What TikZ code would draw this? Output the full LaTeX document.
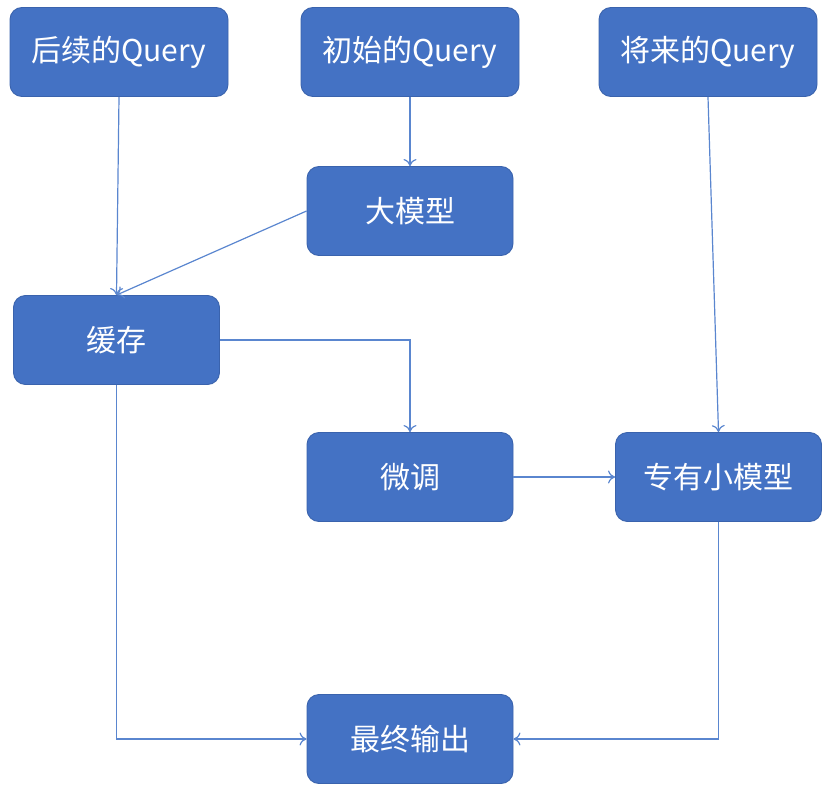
\documentclass[tikz,border=0pt]{standalone}
\usepackage{fontspec}
\newfontfamily\cjk{Noto Sans CJK SC}
\usetikzlibrary{arrows.meta}
\definecolor{boxfill}{HTML}{4472C4}
\definecolor{boxdraw}{HTML}{3A63AD}
\definecolor{linecol}{HTML}{5A86CF}
\tikzset{
  box/.style={draw=boxdraw, line width=0.9pt, fill=boxfill, rounded corners=12pt,
    minimum width=206pt, minimum height=89pt, inner sep=0pt,
    text=white, font=\cjk\fontsize{30}{34}\selectfont},
  qbox/.style={box, minimum width=218pt},
  conn/.style={draw=linecol, line width=1.2pt, -{To[length=7pt,width=13pt]}}
}
\begin{document}
\begin{tikzpicture}[x=1pt,y=-1pt]
\useasboundingbox (0,0) rectangle (828,792);
\node[qbox] (q1) at (119,52) {后续的Query};
\node[qbox] (q2) at (410,52) {初始的Query};
\node[qbox] (q3) at (708,52) {将来的Query};
\node[box] (big) at (410,211) {大模型};
\node[box] (cache) at (116.5,340) {缓存};
\node[box] (tune) at (410,477) {微调};
\node[box] (small) at (718.5,477) {专有小模型};
\node[box] (out) at (410,739) {最终输出};
\draw[conn] (q1.south) -- (cache.north);
\draw[conn] (big.west) -- (cache.north);
\draw[conn] (q2.south) -- (big.north);
\draw[conn] (q3.south) -- (small.north);
\draw[conn] (cache.east) -| (tune.north);
\draw[conn] (tune.east) -- (small.west);
\draw[conn] (cache.south) |- (out.west);
\draw[conn] (small.south) |- (out.east);
\end{tikzpicture}
\end{document}
